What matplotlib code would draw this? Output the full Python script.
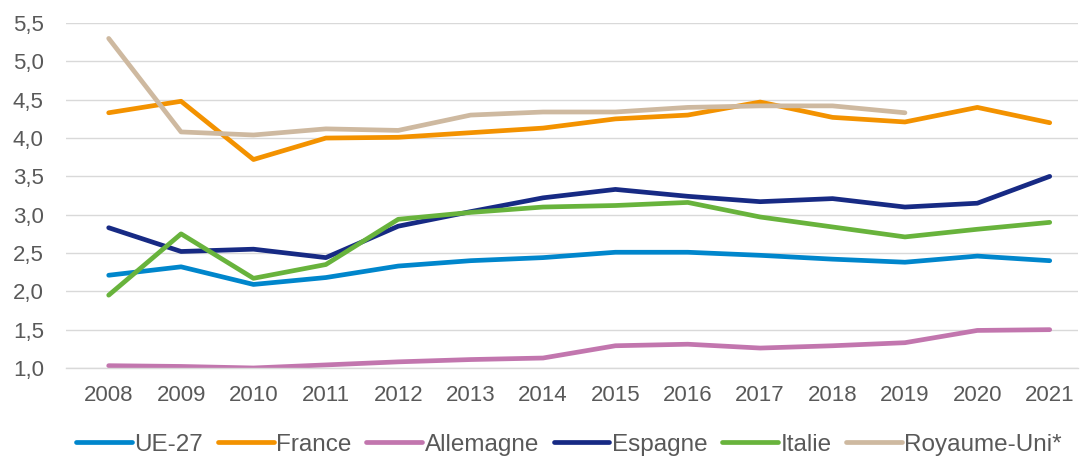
import numpy as np
import matplotlib.pyplot as plt
from matplotlib.ticker import FuncFormatter

plt.rcParams['font.family'] = ['Liberation Sans', 'DejaVu Sans']

years = list(range(2008, 2022))

ue27 = [2.21, 2.32, 2.09, 2.18, 2.33, 2.40, 2.44, 2.51, 2.51, 2.47, 2.42, 2.38, 2.46, 2.40]
france = [4.33, 4.48, 3.72, 4.00, 4.01, 4.07, 4.13, 4.25, 4.30, 4.47, 4.27, 4.21, 4.40, 4.20]
allemagne = [1.03, 1.02, 1.00, 1.04, 1.08, 1.11, 1.13, 1.29, 1.31, 1.26, 1.29, 1.33, 1.49, 1.50]
espagne = [2.83, 2.52, 2.55, 2.44, 2.85, 3.04, 3.22, 3.33, 3.24, 3.17, 3.21, 3.10, 3.15, 3.50]
italie = [1.95, 2.75, 2.17, 2.35, 2.94, 3.03, 3.10, 3.12, 3.16, 2.97, 2.84, 2.71, 2.81, 2.90]
royaume_uni = [5.30, 4.08, 4.04, 4.12, 4.10, 4.30, 4.34, 4.34, 4.40, 4.42, 4.42, 4.33, np.nan, np.nan]

series = [
    ('UE-27', ue27, '#0086CC'),
    ('France', france, '#F39200'),
    ('Allemagne', allemagne, '#C276AE'),
    ('Espagne', espagne, '#172A84'),
    ('Italie', italie, '#68B33C'),
    ('Royaume-Uni*', royaume_uni, '#CEB9A0'),
]

fig = plt.figure(figsize=(10.8, 4.62), dpi=100)
ax = fig.add_axes([0.0611, 0.2035, 0.937, 0.7465])

for name, vals, col in series:
    ax.plot(years, vals, color=col, lw=3.4, solid_capstyle='round',
            solid_joinstyle='round', label=name)

ax.set_ylim(1.0, 5.5)
ax.set_yticks(np.arange(1.0, 5.51, 0.5))
ax.yaxis.set_major_formatter(FuncFormatter(lambda v, p: f'{v:.1f}'.replace('.', ',')))
ax.set_xlim(2008 - 0.59, 2021 + 0.39)
ax.set_xticks(years)

ax.grid(axis='y', color='#D9D9D9', lw=1)
ax.set_axisbelow(True)
for s in ['top', 'right', 'left']:
    ax.spines[s].set_visible(False)
ax.spines['bottom'].set_color('#D9D9D9')
ax.spines['bottom'].set_linewidth(1)
ax.tick_params(axis='both', length=0, labelsize=16, colors='#595959')
ax.tick_params(axis='x', pad=12)
ax.tick_params(axis='y', pad=16)

fig.legend(loc='center', bbox_to_anchor=(0.527, 0.037), ncol=6, frameon=False,
           fontsize=17.5, handlelength=2.3, handletextpad=0.1, columnspacing=0.6,
           labelcolor='#595959')

fig.savefig('out.png', dpi=100)
